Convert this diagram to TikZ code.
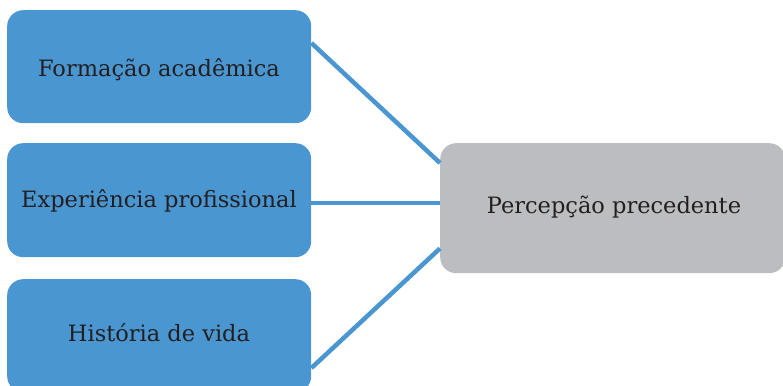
\documentclass[tikz,border=0pt]{standalone}
\usepackage{fontspec}
\setmainfont{DejaVu Serif}
\definecolor{boxblue}{HTML}{4A96D1}
\definecolor{boxgray}{HTML}{BCBDC1}
\definecolor{txt}{HTML}{231F20}
\begin{document}
\begin{tikzpicture}[x=1pt,y=-1pt,
  lbl/.style={text=txt,font=\fontsize{22.5}{26}\selectfont,anchor=base},
  blk/.style={fill=boxblue,rounded corners=16pt,inner sep=0pt,anchor=north west},
  gry/.style={fill=boxgray,rounded corners=16pt,inner sep=0pt,anchor=north west},
  conn/.style={draw=boxblue,line width=4.5pt}]
\useasboundingbox (0,0) rectangle (783,385);
\node[blk,minimum width=304pt,minimum height=113pt] (b1) at (7,10) {};
\node[blk,minimum width=304pt,minimum height=114pt] (b2) at (7,143) {};
\node[blk,minimum width=304pt,minimum height=113pt] (b3) at (7,279) {};
\node[gry,minimum width=345pt,minimum height=130pt] (p) at (440,143) {};
\node[lbl] (t1) at (159,77) {Formação acadêmica};
\node[lbl] (t2) at (159,207) {Experiência profissional};
\node[lbl] (t3) at (159,341) {História de vida};
\node[lbl] (tp) at (614,213) {Percepção precedente};
\coordinate (c2) at ([yshift=-3pt]b2.east);
\draw[conn] ([yshift=-33pt]b1.north east) -- ([yshift=-20pt]p.north west);
\draw[conn] (c2) -- (c2 -| p.west);
\draw[conn] ([yshift=-89pt]b3.north east) -- ([yshift=25pt]p.south west);
\end{tikzpicture}
\end{document}
